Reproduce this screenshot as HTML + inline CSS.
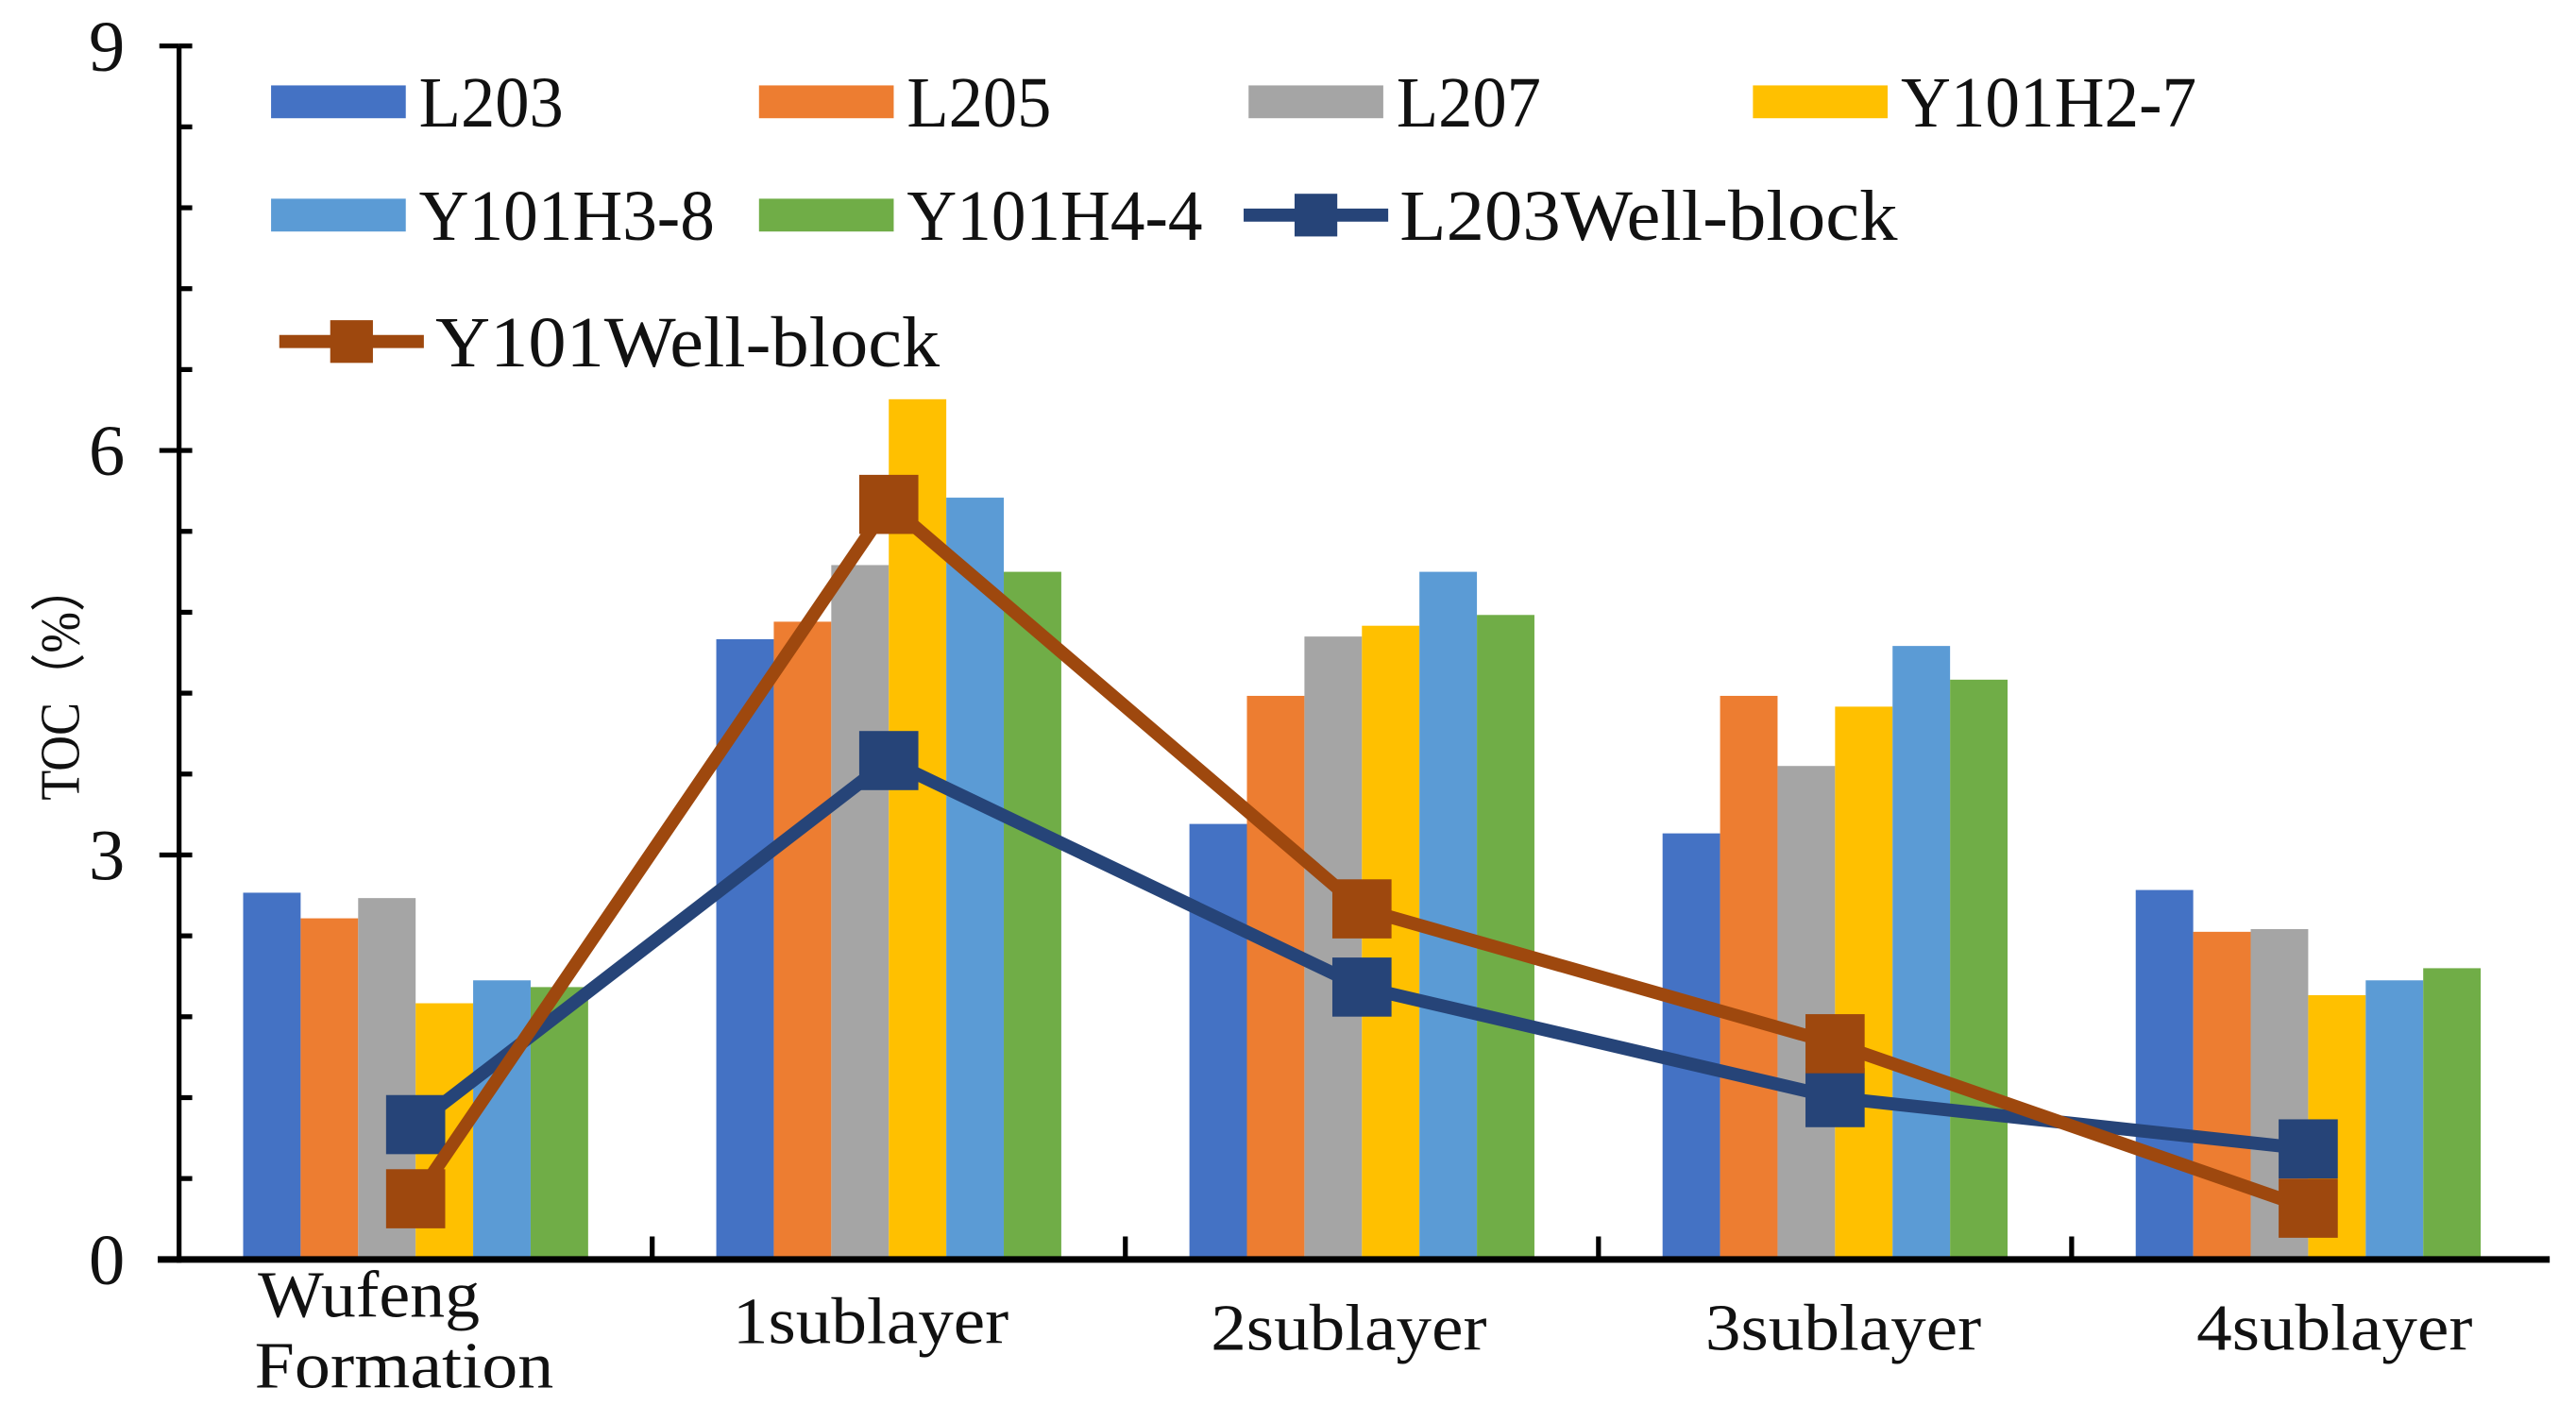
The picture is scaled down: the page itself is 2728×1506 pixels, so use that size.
<!DOCTYPE html>
<html><head><meta charset="utf-8"><style>
html,body{margin:0;padding:0;background:#fff;}
svg{display:block;}
text{font-family:"Liberation Serif",serif;fill:#111;}
</style></head><body>
<svg id="chart" width="2728" height="1506" viewBox="0 0 1568 866" preserveAspectRatio="none" xmlns="http://www.w3.org/2000/svg"></svg>
<script>
const categories = ["Wufeng Formation","1sublayer","2sublayer","3sublayer","4sublayer"];
const seriesNames = ["L203","L205","L207","Y101H2-7","Y101H3-8","Y101H4-4"];
const L203 = [2.72,4.6,3.23,3.16,2.74];
const L205 = [2.53,4.73,4.18,4.18,2.43];
const L207 = [2.68,5.15,4.62,3.66,2.45];
const Y101H2_7 = [1.9,6.38,4.7,4.1,1.96];
const Y101H3_8 = [2.07,5.65,5.1,4.55,2.07];
const Y101H4_4 = [2.02,5.1,4.78,4.3,2.16];
const L203Block = [1.0,3.7,2.02,1.2,0.82];
const Y101Block = [0.45,5.6,2.6,1.6,0.38];
const yTicks = [0,3,6,9];

const svg = document.getElementById('chart');
const NS = 'http://www.w3.org/2000/svg';
const X0 = 109, X1 = 1549, Y0 = 767, Y9 = 28, YMAX = 9;
const catW = (X1 - X0) / categories.length;
const barW = 35;
function yScale(v){ return Y0 - (v / YMAX) * (Y0 - Y9); }
function xCenter(i){ return X0 + catW * (i + 0.5); }
function mk(tag, attrs, parent){ const e = document.createElementNS(NS, tag); for (const k in attrs) e.setAttribute(k, attrs[k]); (parent||svg).appendChild(e); return e; }

const colors = ["#4472C4","#ED7D31","#A5A5A5","#FFC000","#5B9BD5","#70AD47"];
const barSeries = [L203,L205,L207,Y101H2_7,Y101H3_8,Y101H4_4];

barSeries.forEach((s, si) => {
  s.forEach((v, ci) => {
    const x = xCenter(ci) - 3 * barW + si * barW;
    const r = mk('rect', {x: x, y: yScale(v), width: barW, height: Y0 - yScale(v), fill: colors[si]});
    
    
  });
});

function drawLine(vals, color, name){
  const pts = vals.map((v, i) => xCenter(i) + ',' + yScale(v)).join(' ');
  const pl = mk('polyline', {points: pts, fill: 'none', stroke: color, 'stroke-width': 8, 'stroke-linejoin': 'round'});
  
  
  vals.forEach((v, i) => {
    const m = mk('rect', {x: xCenter(i) - 18, y: yScale(v) - 18, width: 36, height: 36, fill: color});
    
    
  });
}
drawLine(L203Block, '#264478', 'l203-well-block');
drawLine(Y101Block, '#9E480E', 'y101-well-block');

const ya = mk('line', {x1: X0, y1: Y9, x2: X0, y2: Y0 + 2, stroke: '#000', 'stroke-width': 3});


const xa = mk('line', {x1: 96, y1: Y0, x2: X1 + 3, y2: Y0, stroke: '#000', 'stroke-width': 4});


for (let v = 0; v <= 9.001; v += 0.6) {
  const t = mk('line', {x1: X0, y1: yScale(v), x2: X0 + 8, y2: yScale(v), stroke: '#000', 'stroke-width': 3});
  
  
}
yTicks.forEach(v => {
  const t = mk('line', {x1: X0 - 12, y1: yScale(v), x2: X0, y2: yScale(v), stroke: '#000', 'stroke-width': 3});
  
  
  const l = mk('text', {x: 76, y: yScale(v) + 15, 'font-size': 44, 'text-anchor': 'end'});
  l.textContent = v;
  
  
});
for (let i = 1; i < categories.length; i++) {
  const t = mk('line', {x1: X0 + catW * i, y1: Y0 - 14, x2: X0 + catW * i, y2: Y0, stroke: '#000', 'stroke-width': 3});
  
  
}
const labelShift = [0, -11, -8, 5, 16];
categories.forEach((c, i) => {
  if (i === 0) {
    const t1 = mk('text', {x: 157, y: 802, 'font-size': 40, textLength: 135, lengthAdjust: 'spacingAndGlyphs'}); t1.textContent = 'Wufeng';
     
    const t2 = mk('text', {x: 155, y: 845, 'font-size': 40, textLength: 182, lengthAdjust: 'spacingAndGlyphs'}); t2.textContent = 'Formation';
     
  } else {
    const t = mk('text', {x: xCenter(i) + labelShift[i], y: 818 + (i > 1 ? 4 : 0), 'font-size': 40, 'text-anchor': 'middle', textLength: 168, lengthAdjust: 'spacingAndGlyphs'});
    t.textContent = c;
    
    
  }
});
const yt = mk('text', {x: 0, y: 0, 'font-size': 34, 'text-anchor': 'middle', transform: 'translate(48,415) rotate(-90)', textLength: 145, lengthAdjust: 'spacingAndGlyphs'});
yt.textContent = 'TOC（%）';



const legItems = [
  {x:165,y:62,c:colors[0],t:'L203',w:88},{x:462,y:62,c:colors[1],t:'L205',w:88},
  {x:760,y:62,c:colors[2],t:'L207',w:88},{x:1067,y:62,c:colors[3],t:'Y101H2-7',w:180},
  {x:165,y:131,c:colors[4],t:'Y101H3-8',w:180},{x:462,y:131,c:colors[5],t:'Y101H4-4',w:180}
];
legItems.forEach(it => {
  const r = mk('rect', {x: it.x, y: it.y - 10, width: 82, height: 20, fill: it.c});
  
  
  const t = mk('text', {x: it.x + 90, y: it.y + 15, 'font-size': 44, textLength: it.w, lengthAdjust: 'spacingAndGlyphs'});
  t.textContent = it.t;
  
  
});
const lineLeg = [{x:757,y:131,c:'#264478',t:'L203Well-block',w:303},{x:170,y:208,c:'#9E480E',t:'Y101Well-block',w:307}];
lineLeg.forEach(it => {
  const l = mk('line', {x1: it.x, y1: it.y, x2: it.x + 88, y2: it.y, stroke: it.c, 'stroke-width': 8});
  
  
  const m = mk('rect', {x: it.x + 31, y: it.y - 13, width: 26, height: 26, fill: it.c});
  
  
  const t = mk('text', {x: it.x + 95, y: it.y + 15, 'font-size': 44, textLength: it.w, lengthAdjust: 'spacingAndGlyphs'});
  t.textContent = it.t;
  
  
});
</script>
</body></html>
